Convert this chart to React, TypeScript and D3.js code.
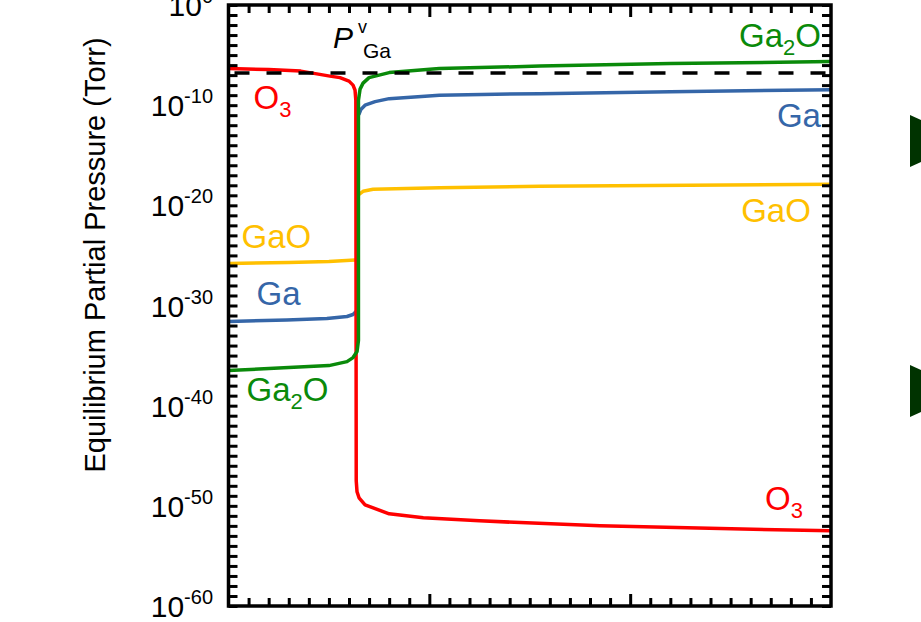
import { useRef, useEffect } from "react";
import * as d3 from "d3";

// x: arbitrary units along the axis (0..30), value: log10 of pressure in Torr
const o3Points: [number, number][] = [
  [0, -6.35], [2, -6.45], [3.6, -6.6], [5.05, -7.1], [5.55, -7.25], [6.0, -7.6],
  [6.2, -8.0], [6.3, -8.5], [6.34, -9.5], [6.36, -47.5], [6.4, -48.6], [6.5, -49.2],
  [6.8, -49.9], [8.0, -50.8], [9.7, -51.2], [12.5, -51.5], [18.5, -52.0], [30, -52.5],
];
const ga2oPoints: [number, number][] = [
  [0, -36.5], [3, -36.2], [5, -36.0], [5.9, -35.6], [6.2, -35.2], [6.4, -34.6],
  [6.47, -33.5], [6.47, -9.5], [6.55, -8.4], [6.7, -7.8], [7.0, -7.25], [8.0, -6.75],
  [10.5, -6.35], [15.5, -6.1], [22, -5.85], [30, -5.65],
];
const gaLeft: [number, number][] = [
  [0, -31.6], [2.9, -31.45], [4.9, -31.3], [5.9, -31.1], [6.2, -30.9], [6.35, -30.6],
];
const gaRight: [number, number][] = [
  [6.5, -10.9], [6.6, -10.4], [6.8, -10.0], [7.3, -9.65], [8.0, -9.35], [10.5, -9.0],
  [15.5, -8.85], [22, -8.65], [30, -8.45],
];
const gaoLeft: [number, number][] = [
  [0, -25.8], [3, -25.7], [5, -25.6], [6.3, -25.45],
];
const gaoRight: [number, number][] = [
  [6.5, -18.9], [6.7, -18.6], [7.2, -18.4], [10.5, -18.25], [15.5, -18.1], [30, -17.9],
];
const vaporGa: [number, number][] = [[0, -6.8], [30, -6.8]];

const yTickExponents = [0, -10, -20, -30, -40, -50, -60];

const RED = "#ff0000";
const GREEN = "#0a8a0a";
const BLUE = "#3566a8";
const YELLOW = "#ffc000";
const FONT = "Arial, 'Liberation Sans', sans-serif";

const W = 921;
const H = 622;

const App = () => {
  const svgRef = useRef<SVGSVGElement | null>(null);

  useEffect(() => {
    if (!svgRef.current) return;
    const svg = d3.select(svgRef.current);
    svg.selectAll("*").remove();

    const left = 228.5, right = 831, top = 5, bottom = 606;
    const x = d3.scaleLinear().domain([0, 30]).range([left, right]);
    const y = d3.scaleLog().domain([1e-60, 1]).range([bottom, top]);
    const py = (e: number) => y(Math.pow(10, e));

    svg.append("defs").append("clipPath").attr("id", "plot")
      .append("rect").attr("x", left).attr("y", top)
      .attr("width", right - left).attr("height", bottom - top);

    const line = d3.line<[number, number]>()
      .x((d) => x(d[0]))
      .y((d) => py(d[1]));

    const plot = svg.append("g").attr("clip-path", "url(#plot)");
    const series: [[number, number][], string][] = [
      [gaoLeft, YELLOW], [gaoRight, YELLOW],
      [gaLeft, BLUE], [gaRight, BLUE],
      [o3Points, RED], [ga2oPoints, GREEN],
    ];
    series.forEach(([pts, c]) => {
      plot.append("path").datum(pts).attr("d", line)
        .attr("fill", "none").attr("stroke", c).attr("stroke-width", 3.5)
        .attr("stroke-linejoin", "round").attr("stroke-linecap", "round");
    });
    plot.append("path").datum(vaporGa).attr("d", line)
      .attr("fill", "none").attr("stroke", "#000").attr("stroke-width", 3.5)
      .attr("stroke-dasharray", "15,17").attr("stroke-dashoffset", -6);

    // ticks
    const xMinor = d3.range(1, 30).filter((v) => v % 10 !== 0);
    const xMajor = [10, 20];
    const yTicks = d3.range(0, -61, -1).map((e) => Math.pow(10, e));
    const style = (s: d3.Selection<SVGGElement, unknown, null, undefined>) => {
      s.select(".domain").remove();
      s.selectAll("line").attr("stroke", "#000").attr("stroke-width", 3);
      s.selectAll("text").remove();
    };
    const ax = svg.append("g");
    ax.append("g").attr("transform", `translate(0,${bottom})`)
      .call(d3.axisBottom(x).tickValues(xMinor).tickSize(-8)).call(style);
    ax.append("g").attr("transform", `translate(0,${bottom})`)
      .call(d3.axisBottom(x).tickValues(xMajor).tickSize(-12)).call(style);
    ax.append("g").attr("transform", `translate(0,${top})`)
      .call(d3.axisTop(x).tickValues(xMinor).tickSize(-8)).call(style);
    ax.append("g").attr("transform", `translate(0,${top})`)
      .call(d3.axisTop(x).tickValues(xMajor).tickSize(-12)).call(style);
    ax.append("g").attr("transform", `translate(${left},0)`)
      .call(d3.axisLeft(y).tickValues(yTicks).tickSize(-9)).call(style);
    ax.append("g").attr("transform", `translate(${right},0)`)
      .call(d3.axisRight(y).tickValues(yTicks).tickSize(-9)).call(style);

    svg.append("rect").attr("x", left).attr("y", top)
      .attr("width", right - left).attr("height", bottom - top)
      .attr("fill", "none").attr("stroke", "#000").attr("stroke-width", 3.5);

    // y tick labels
    yTickExponents.forEach((e) => {
      const t = svg.append("text").attr("x", 213).attr("y", py(e) + 11)
        .attr("text-anchor", "end").attr("font-family", FONT)
        .attr("font-size", 30).attr("fill", "#000");
      t.append("tspan").text("10");
      t.append("tspan").attr("dy", -13).attr("font-size", 20).text(String(e));
    });

    // y axis title
    svg.append("text")
      .attr("transform", `translate(105,255) rotate(-90)`)
      .attr("text-anchor", "middle").attr("font-family", FONT)
      .attr("font-size", 29).attr("fill", "#000")
      .text("Equilibrium Partial Pressure (Torr)");

    // species labels
    const label = (u: number, e: number, parts: [string, boolean][], color: string, anchor: string) => {
      const t = svg.append("text").attr("x", x(u)).attr("y", py(e))
        .attr("text-anchor", anchor).attr("font-family", FONT)
        .attr("font-size", 33).attr("fill", color);
      let shifted = false;
      parts.forEach(([s, sub]) => {
        const sp = t.append("tspan").text(s);
        if (sub && !shifted) { sp.attr("dy", 8).attr("font-size", 22); shifted = true; }
        else if (!sub && shifted) { sp.attr("dy", -8); shifted = false; }
      });
    };
    label(1.25, -10.4, [["O", false], ["3", true]], RED, "start");
    label(28.6, -50.45, [["O", false], ["3", true]], RED, "end");
    label(29.5, -4.2, [["Ga", false], ["2", true], ["O", false]], GREEN, "end");
    label(0.9, -39.55, [["Ga", false], ["2", true], ["O", false]], GREEN, "start");
    label(29.5, -12.2, [["Ga", false]], BLUE, "end");
    label(1.4, -29.95, [["Ga", false]], BLUE, "start");
    label(29.0, -21.7, [["GaO", false]], YELLOW, "end");
    label(0.65, -24.25, [["GaO", false]], YELLOW, "start");

    // P^v_Ga annotation
    const px0 = x(5.2), pyb = py(-4.3);
    svg.append("text").attr("x", px0).attr("y", pyb).attr("font-family", FONT)
      .attr("font-size", 30).attr("font-style", "italic").attr("fill", "#000").text("P");
    svg.append("text").attr("x", px0 + 25).attr("y", pyb - 15).attr("font-family", FONT)
      .attr("font-size", 18).attr("fill", "#000").text("v");
    svg.append("text").attr("x", px0 + 30).attr("y", pyb + 10).attr("font-family", FONT)
      .attr("font-size", 21).attr("fill", "#000").text("Ga");

    // arrows from neighbouring panel, cut by the frame edge
    [141, 391].forEach((cy) => {
      svg.append("polygon")
        .attr("points", `910,${cy - 26} 967,${cy} 910,${cy + 26}`)
        .attr("fill", "#003300");
    });
  }, []);

  return (
    <svg
      ref={svgRef}
      width={W}
      height={H}
      style={{ position: "absolute", left: 0, top: 0, background: "#fff" }}
    />
  );
};

export default App;
